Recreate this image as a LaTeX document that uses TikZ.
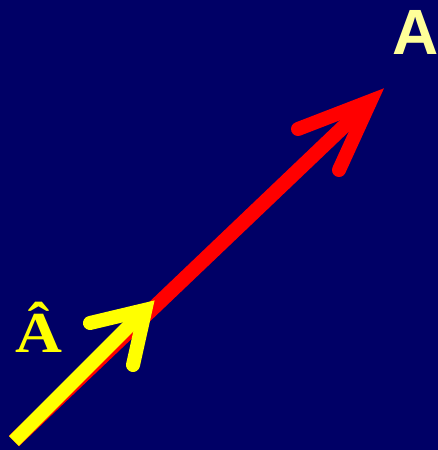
\documentclass[tikz,border=0pt]{standalone}
\usepackage{fontspec}
\setmainfont{Liberation Serif}
\newfontfamily\labelsans{Liberation Sans}
\usepackage{tikz}
\definecolor{BGNavy}{RGB}{0,0,102}
\definecolor{VecRed}{RGB}{255,0,0}
\definecolor{VecYellow}{RGB}{255,255,0}
\definecolor{PaleYellow}{RGB}{255,255,153}

\begin{document}
\begin{tikzpicture}[x=1pt, y=-1pt,
            shaft/.style={line width=14.5pt, line cap=butt},
            head/.style={line width=14pt, line cap=round, line join=miter},
            lbl/.style={inner sep=0pt, anchor=base}
          ]
          \fill[BGNavy] (0,0) rectangle (438,450);
          \useasboundingbox (0,0) rectangle (438,450);

          \coordinate (orig) at (14,441);
          % vector A
          \coordinate (rv)  at (370.5,101);
          \coordinate (rb1) at (298,129);
          \coordinate (rb2) at (339,170);
          % unit vector
          \coordinate (yv)  at (145.3,309.8);
          \coordinate (yb1) at (90,323);
          \coordinate (yb2) at (133,365);

          \draw[shaft, VecRed] (orig) -- (rv);
          \draw[head, VecRed] (rb1) -- (rv) -- (rb2);
          \draw[shaft, line width=14pt, VecYellow] (orig) -- (yv);
          \draw[head, VecYellow] (yb1) -- (yv) -- (yb2);

          \node[lbl, font=\labelsans\bfseries\fontsize{64}{64}\selectfont, text=PaleYellow] (lA) at (415.5,54) {A};
          \node[lbl, font=\bfseries\fontsize{58}{58}\selectfont, text=VecYellow, xscale=1.12] (lAhat) at (38.5,352) {Â};
        \end{tikzpicture}
\end{document}
